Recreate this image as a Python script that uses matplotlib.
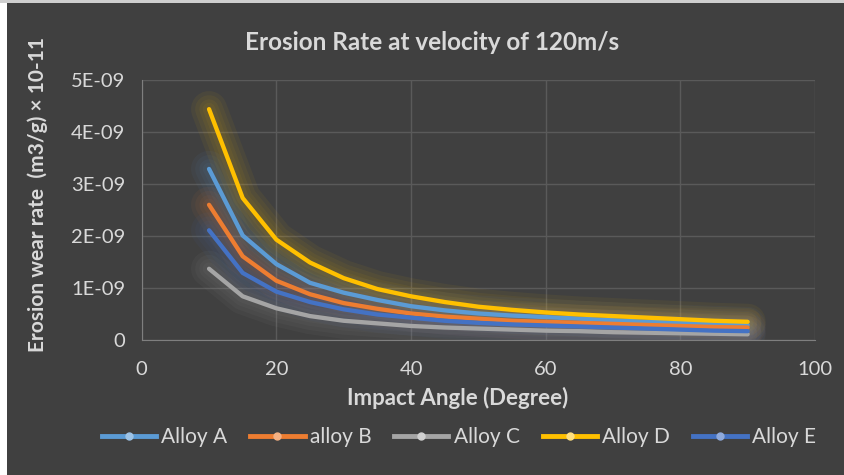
import matplotlib.pyplot as plt
from matplotlib.lines import Line2D
from matplotlib.patches import Rectangle

# Daten (Werte in 1E-09)
angles = [10, 15, 20, 25, 30, 35, 40, 45, 50, 55, 60, 65, 70, 75, 80, 85, 90]
alloy_a = [3.29, 2.01, 1.46, 1.10, 0.91, 0.77, 0.65, 0.57, 0.51, 0.47, 0.44, 0.41, 0.38, 0.35, 0.33, 0.31, 0.29]
alloy_b = [2.60, 1.61, 1.14, 0.88, 0.71, 0.60, 0.51, 0.45, 0.41, 0.37, 0.35, 0.33, 0.31, 0.29, 0.27, 0.25, 0.24]
alloy_c = [1.37, 0.84, 0.61, 0.46, 0.37, 0.32, 0.27, 0.24, 0.22, 0.20, 0.18, 0.17, 0.15, 0.14, 0.13, 0.12, 0.11]
alloy_d = [4.44, 2.73, 1.93, 1.49, 1.19, 0.98, 0.84, 0.73, 0.64, 0.58, 0.53, 0.49, 0.46, 0.43, 0.40, 0.37, 0.35]
alloy_e = [2.11, 1.29, 0.93, 0.73, 0.59, 0.49, 0.43, 0.37, 0.33, 0.30, 0.28, 0.26, 0.24, 0.22, 0.20, 0.18, 0.17]

labels = ['Alloy A', 'alloy B', 'Alloy C', 'Alloy D', 'Alloy E']
series = [alloy_a, alloy_b, alloy_c, alloy_d, alloy_e]
colors = ['#5B9BD5', '#ED7D31', '#A5A5A5', '#FFC000', '#4472C4']
marker_colors = ['#9DC3E6', '#F4B183', '#D0D0D0', '#FFE080', '#8FAADC']

y_ticks = [0, 1e-9, 2e-9, 3e-9, 4e-9, 5e-9]
y_tick_labels = ['0', '1E-09', '2E-09', '3E-09', '4E-09', '5E-09']
x_ticks = [0, 20, 40, 60, 80, 100]

bg = '#404040'
txt = '#D9D9D9'
grid = '#5A5A5A'

plt.rcParams['font.family'] = ['Lato', 'DejaVu Sans']

fig = plt.figure(figsize=(8.45, 4.75), dpi=100)
fig.patch.set_facecolor(bg)
# weisse Raender links und oben
fig.patches.append(Rectangle((0, 0), 7 / 845, 1, transform=fig.transFigure,
                             facecolor='white', edgecolor='none'))
fig.patches.append(Rectangle((0, 1 - 3 / 475), 1, 3 / 475, transform=fig.transFigure,
                             facecolor='#CFCFCF', edgecolor='none'))

ax = fig.add_axes([141.7 / 845, 1 - 340 / 475, (815 - 141.7) / 845, (340 - 80) / 475])
ax.set_facecolor(bg)

# Glow unter den Linien
for vals, c in zip(series, colors):
    y = [v * 1e-9 for v in vals]
    for lw in [26, 20, 14, 9]:
        ax.plot(angles, y, color=c, lw=lw, alpha=0.055, solid_capstyle='round', zorder=2)

for vals, c in zip(series, colors):
    y = [v * 1e-9 for v in vals]
    ax.plot(angles, y, color=c, lw=3.1, solid_capstyle='round', solid_joinstyle='round', zorder=3)

ax.set_xlim(0, 100)
ax.set_ylim(0, 5e-9)
ax.set_xticks(x_ticks)
ax.set_yticks(y_ticks)
ax.set_yticklabels(y_tick_labels)
ax.tick_params(colors=txt, labelsize=14.5, length=0)
ax.tick_params(axis='x', pad=15)
ax.tick_params(axis='y', pad=12)
ax.grid(True, color=grid, lw=1)
ax.set_axisbelow(True)
for s in ['top', 'right']:
    ax.spines[s].set_visible(False)
for s in ['left', 'bottom']:
    ax.spines[s].set_color('#7F7F7F')

fig.text(432 / 845, 1 - 42 / 475, 'Erosion Rate at velocity of 120m/s', color=txt,
         fontsize=17.5, fontweight='bold', ha='center', va='center')
fig.text(458 / 845, 1 - 398 / 475, 'Impact Angle (Degree)', color=txt,
         fontsize=16, fontweight='bold', ha='center', va='center')
fig.text(38 / 845, 1 - 195 / 475, 'Erosion wear rate  (m3/g) \u00d7 10-11', color=txt,
         fontsize=15, fontweight='bold', ha='center', va='center', rotation=90)

handles = [Line2D([0], [0], color=c, lw=3.5, marker='o', markersize=5,
                  markerfacecolor=m, markeredgecolor=m) for c, m in zip(colors, marker_colors)]
leg = fig.legend(handles, labels, loc='center', bbox_to_anchor=(459 / 845, 1 - 437 / 475),
                 ncol=5, frameon=False, fontsize=15, handlelength=2.6, columnspacing=1.1,
                 handletextpad=0.25)
for t in leg.get_texts():
    t.set_color(txt)

fig.savefig('out.png', dpi=100, facecolor=fig.get_facecolor())
